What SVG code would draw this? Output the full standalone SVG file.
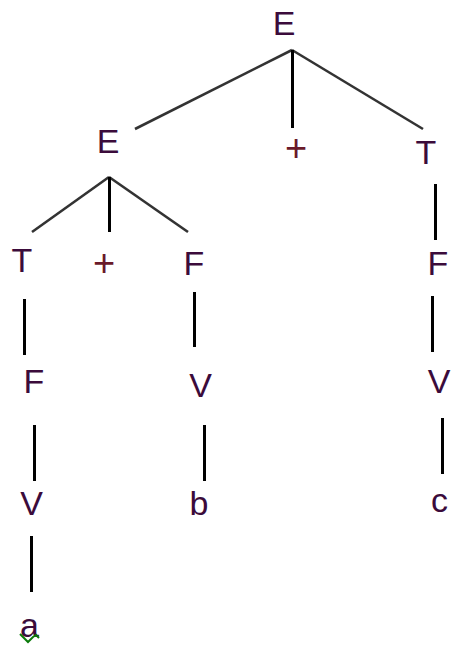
<svg xmlns="http://www.w3.org/2000/svg" width="452" height="647" viewBox="0 0 452 647">
  <style>
    .sym { font-family: "Liberation Sans", Arial, sans-serif; font-size: 34px; fill: #3b0b3b; text-anchor: middle; }
    .op { font-family: "Liberation Sans", Arial, sans-serif; font-size: 38px; fill: #6a1a2a; text-anchor: middle; }
    .branch { stroke: #333333; stroke-width: 2.6; fill: none; }
    .stem { stroke: #000000; stroke-width: 3; fill: none; }
  </style>
  <rect width="452" height="647" fill="#ffffff"/>

  <!-- connectors -->
  <g id="connectors">
    <line class="branch" x1="292" y1="50" x2="135" y2="129"/>
    <line class="branch" x1="292" y1="50" x2="423" y2="129"/>
    <line class="stem" x1="292.5" y1="50" x2="292.5" y2="128"/>

    <line class="branch" x1="109" y1="177" x2="32" y2="232"/>
    <line class="branch" x1="109" y1="177" x2="188" y2="232"/>
    <line class="stem" x1="109.5" y1="177" x2="109.5" y2="232"/>

    <line class="stem" x1="24.5" y1="299" x2="24.5" y2="355"/>
    <line class="stem" x1="34.5" y1="425" x2="34.5" y2="481"/>
    <line class="stem" x1="31.5" y1="536" x2="31.5" y2="592"/>

    <line class="stem" x1="194.5" y1="292" x2="194.5" y2="347"/>
    <line class="stem" x1="204.5" y1="425" x2="204.5" y2="481"/>

    <line class="stem" x1="435.5" y1="184" x2="435.5" y2="240"/>
    <line class="stem" x1="432.5" y1="296" x2="432.5" y2="352"/>
    <line class="stem" x1="442.5" y1="418" x2="442.5" y2="474"/>
  </g>

  <!-- nodes -->
  <g id="n-root"><text class="sym" x="284" y="35">E</text></g>
  <g id="n-e1"><text class="sym" x="108" y="153">E</text></g>
  <g id="n-plus1"><text class="op" x="296" y="161">+</text></g>
  <g id="n-t1"><text class="sym" x="426" y="164">T</text></g>

  <g id="n-t2"><text class="sym" x="22" y="272">T</text></g>
  <g id="n-plus2"><text class="op" x="104" y="276">+</text></g>
  <g id="n-f2"><text class="sym" x="194" y="275">F</text></g>
  <g id="n-f1"><text class="sym" x="438" y="275">F</text></g>

  <g id="n-f3"><text class="sym" x="34" y="393">F</text></g>
  <g id="n-v2"><text class="sym" x="200.5" y="397">V</text></g>
  <g id="n-v1"><text class="sym" x="439" y="393">V</text></g>

  <g id="n-v3"><text class="sym" x="31.5" y="515">V</text></g>
  <g id="n-b"><text class="sym" x="199" y="515">b</text></g>
  <g id="n-c"><text class="sym" x="439.5" y="512">c</text></g>

  <g id="n-a">
    <text class="sym" x="29.5" y="637">a</text>
    <polyline points="20,634 28,642 33,637 36,635 39,638" fill="none" stroke="#0a7a0a" stroke-width="2"/>
  </g>
</svg>
